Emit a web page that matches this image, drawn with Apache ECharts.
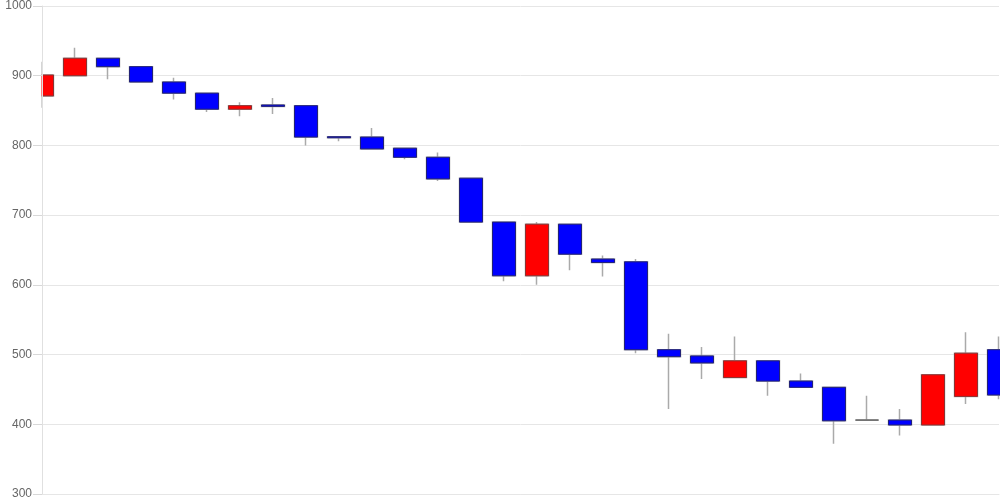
<!DOCTYPE html>
<html>
<head>
<meta charset="utf-8">
<script src="https://cdn.jsdelivr.net/npm/echarts@6/dist/echarts.min.js"></script>
<style>html,body{margin:0;padding:0;background:#fff}#c{width:1000px;height:500px}</style>
</head>
<body>
<div id="c"></div>
<script>
var categories = ['1','2','3','4','5','6','7','8','9','10','11','12','13','14','15','16','17','18','19','20','21','22','23','24','25','26','27','28','29','30'];
var openV  = [871, 900, 925, 913, 891, 875, 852, 858, 857, 812.5, 812, 796, 783, 753, 690, 613, 687, 637, 633, 507, 498, 467, 491, 462, 453, 406, 406, 399, 440, 507];
var closeV = [901, 925, 913, 891, 875, 852, 857, 856, 812, 811, 795, 783, 752, 690, 613, 687, 644, 632, 507, 497, 488, 491, 462, 453, 405, 406, 399, 471, 502, 442];
var lowV   = [854, 899, 895, 890, 866, 848, 842, 845, 800, 806, 795, 780, 749, 690, 605, 600, 621, 612, 502, 422, 465, 467, 441, 453, 372, 405, 384, 399, 429, 436];
var highV  = [920, 940, 926, 913, 897, 875, 862, 868, 857, 813, 825, 796, 790, 753, 690, 690, 687, 642, 637, 530, 511, 526, 491, 473, 453, 441, 422, 471, 532, 526];
var yTicks = [300, 1000, 100];

var full = categories.map(function (c, i) { return [openV[i], closeV[i], lowV[i], highV[i]]; });
var bodies = categories.map(function (c, i) {
  return [openV[i], closeV[i], Math.min(openV[i], closeV[i]), Math.max(openV[i], closeV[i])];
});

var chart = echarts.init(document.getElementById('c'));
chart.setOption({
  animation: false,
  backgroundColor: '#ffffff',
  grid: { left: 42, right: 1, top: 6, bottom: 6, containLabel: false },
  graphic: [{
    type: 'rect', left: 0, top: 0, z: 50, silent: true,
    shape: { width: 41.5, height: 500 },
    style: { fill: '#ffffff' }
  }],
  xAxis: {
    type: 'category',
    data: categories,
    boundaryGap: false,
    axisLine: { show: true, lineStyle: { color: '#e6e6e6' } },
    axisTick: { show: false },
    axisLabel: { show: false },
    splitLine: { show: false }
  },
  yAxis: [{
    type: 'value',
    z: 0,
    min: yTicks[0],
    max: yTicks[1],
    interval: yTicks[2],
    axisLine: { show: false },
    axisTick: { show: false },
    axisLabel: { show: false },
    splitLine: { show: true, lineStyle: { color: '#e6e6e6' } }
  }, {
    type: 'value',
    position: 'left',
    z: 60,
    min: yTicks[0],
    max: yTicks[1],
    interval: yTicks[2],
    axisLine: { show: true, lineStyle: { color: '#e0e0e0' } },
    axisTick: { show: true, length: 9, lineStyle: { color: '#d8d8d8' } },
    axisLabel: {
      color: '#666', fontSize: 12, fontFamily: 'Arial, Liberation Sans, sans-serif', margin: 10,
      formatter: function (v) { return String(v); }
    },
    splitLine: { show: false }
  }],
  series: [
    {
      type: 'candlestick',
      data: full,
      barWidth: 24,
      itemStyle: {
        color: '#ff0000', color0: '#0000ff',
        borderColor: '#aaaaaa', borderColor0: '#aaaaaa', borderColorDoji: '#aaaaaa',
        borderWidth: 1.5
      }
    },
    {
      type: 'candlestick',
      data: bodies,
      barWidth: 24,
      itemStyle: {
        color: '#ff0000', color0: '#0000ff',
        borderColor: '#8a3333', borderColor0: '#222277', borderColorDoji: '#666666',
        borderWidth: 1
      }
    }
  ]
});
</script>
</body>
</html>
